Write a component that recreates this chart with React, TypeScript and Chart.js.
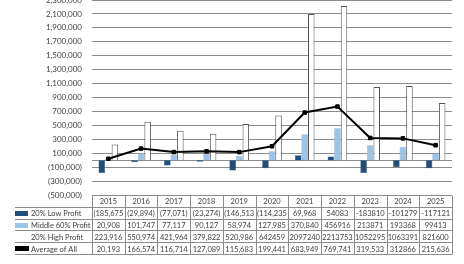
import React, { useEffect, useRef } from "react";
import { Chart, registerables } from "chart.js";
Chart.register(...registerables);

const years = ["2015", "2016", "2017", "2018", "2019", "2020", "2021", "2022", "2023", "2024", "2025"];
const lowProfit = [-185675, -29894, -77071, -23274, -146513, -114235, 69968, 54083, -183810, -101279, -117121];
const middleProfit = [20908, 101747, 77117, 90127, 58974, 127985, 370840, 456916, 213871, 193368, 99413];
const highProfit = [223916, 550974, 421964, 379822, 520986, 642459, 2097240, 2213753, 1052295, 1063391, 821600];
const averageAll = [20193, 166574, 116714, 127089, 115683, 199441, 683949, 769741, 319533, 312866, 215636];

const lowLabels = ["(185,675", "(29,894)", "(77,071)", "(23,274)", "(146,513", "(114,235", "69,968", "54083", "-183810", "-101279", "-117121"];
const middleLabels = ["20,908", "101,747", "77,117", "90,127", "58,974", "127,985", "370,840", "456916", "213871", "193368", "99413"];
const highLabels = ["223,916", "550,974", "421,964", "379,822", "520,986", "642459", "2097240", "2213753", "1052295", "1063391", "821600"];
const averageLabels = ["20,193", "166,574", "116,714", "127,089", "115,683", "199,441", "683,949", "769,741", "319,533", "312866", "215,636"];

const seriesNames = ["20% Low Profit", "Middle 60% Profit", "20% High Profit", "Average of All"];
const yMin = -500000;
const yMax = 2300000;
const yStep = 200000;

const FONT = "Lato, 'Liberation Sans', sans-serif";
const TEXT = "#404040";
const GRID = "#8c8c8c";
const DARK = "#1f4e79";
const LIGHT = "#9dc3e6";

function fmt(v: number): string {
  const s = Math.abs(v).toLocaleString("en-US");
  return v < 0 ? `(${s})` : s;
}

const zeroLinePlugin = {
  id: "zeroLine",
  beforeDatasetsDraw(chart: any) {
    const { ctx, chartArea, scales } = chart;
    const y = Math.round(scales.y.getPixelForValue(0)) + 0.5;
    ctx.save();
    ctx.strokeStyle = GRID;
    ctx.lineWidth = 1;
    ctx.beginPath();
    ctx.moveTo(chartArea.left, y);
    ctx.lineTo(chartArea.right, y);
    ctx.stroke();
    ctx.restore();
  },
};

const tablePlugin = {
  id: "dataTable",
  afterDraw(chart: any) {
    const { ctx, chartArea } = chart;
    const left = chartArea.left;
    const right = chartArea.right;
    const n = years.length;
    const colW = (right - left) / n;
    const top = Math.round(chartArea.bottom) + 0.5;
    const rowH = 11.8;
    const legendLeft = 15;
    const rows = [lowLabels, middleLabels, highLabels, averageLabels];
    ctx.save();
    ctx.strokeStyle = GRID;
    ctx.lineWidth = 1;
    for (let r = 0; r <= 5; r++) {
      const y = Math.round(top + r * rowH - 0.5) + 0.5;
      ctx.beginPath();
      ctx.moveTo(r === 0 ? left : legendLeft, y);
      ctx.lineTo(right, y);
      ctx.stroke();
    }
    for (let i = 0; i <= n; i++) {
      const x = Math.round(left + i * colW) + 0.5;
      ctx.beginPath();
      ctx.moveTo(x, top);
      ctx.lineTo(x, Math.round(top + 5 * rowH - 0.5) + 0.5);
      ctx.stroke();
    }
    ctx.fillStyle = TEXT;
    ctx.font = `7.5px ${FONT}`;
    ctx.textAlign = "center";
    ctx.textBaseline = "middle";
    for (let i = 0; i < n; i++) {
      const cx = left + (i + 0.5) * colW;
      ctx.fillText(years[i], cx, top + rowH / 2 + 0.5);
      for (let r = 0; r < 4; r++) {
        ctx.fillText(rows[r][i], cx, top + (r + 1.5) * rowH + 0.5);
      }
    }
    const keyColors = [DARK, LIGHT, "#ffffff", "#000000"];
    for (let r = 0; r < 4; r++) {
      const cy = top + (r + 1.5) * rowH;
      ctx.fillStyle = keyColors[r];
      ctx.fillRect(legendLeft, Math.round(cy - 2.5), r === 3 ? 14 : 13, 5);
      ctx.fillStyle = TEXT;
      ctx.textAlign = "left";
      ctx.fillText(seriesNames[r], 31, cy + 0.5);
    }
    ctx.restore();
  },
};

export default function App() {
  const ref = useRef<HTMLCanvasElement>(null);
  useEffect(() => {
    if (!ref.current) return;
    const chart = new Chart(ref.current, {
      type: "bar",
      data: {
        labels: years,
        datasets: [
          {
            type: "line",
            label: seriesNames[3],
            data: averageAll,
            borderColor: "#000000",
            backgroundColor: "#000000",
            borderWidth: 2,
            pointStyle: "rect",
            pointRadius: 2.5,
            pointBorderWidth: 1,
            tension: 0,
            order: 0,
          } as any,
          {
            label: seriesNames[0],
            data: lowProfit,
            backgroundColor: DARK,
            borderColor: "#1a4268",
            borderWidth: 0.5,
            categoryPercentage: 0.6,
            barPercentage: 1.0,
            order: 1,
          },
          {
            label: seriesNames[1],
            data: middleProfit,
            backgroundColor: LIGHT,
            borderColor: "#6f9cc8",
            borderWidth: 0.5,
            categoryPercentage: 0.6,
            barPercentage: 1.0,
            order: 1,
          },
          {
            label: seriesNames[2],
            data: highProfit,
            backgroundColor: "#ffffff",
            borderColor: "#555555",
            borderWidth: 1,
            categoryPercentage: 0.6,
            barPercentage: 1.0,
            order: 1,
          },
        ],
      },
      options: {
        responsive: false,
        animation: false,
        devicePixelRatio: 1,
        layout: { autoPadding: false, padding: { left: 0, right: 12, top: -1, bottom: 69 } },
        plugins: { legend: { display: false }, tooltip: { enabled: false } },
        scales: {
          x: { display: false, offset: true },
          y: {
            min: yMin,
            max: yMax,
            border: { display: false },
            grid: { color: GRID, lineWidth: 1, drawTicks: false },
            ticks: {
              stepSize: yStep,
              padding: 10,
              color: TEXT,
              font: { family: FONT, size: 8 },
              callback: (v: any) => fmt(Number(v)),
            },
            afterFit: (s: any) => {
              s.width = 92;
              s.paddingTop = 0;
              s.paddingBottom = 0;
            },
          },
        },
      } as any,
      plugins: [zeroLinePlugin, tablePlugin],
    });
    return () => chart.destroy();
  }, []);
  return (
    <div style={{ position: "fixed", left: 0, top: 0, width: 464, height: 264, background: "#fff" }}>
      <canvas ref={ref} width={464} height={264} />
    </div>
  );
}
